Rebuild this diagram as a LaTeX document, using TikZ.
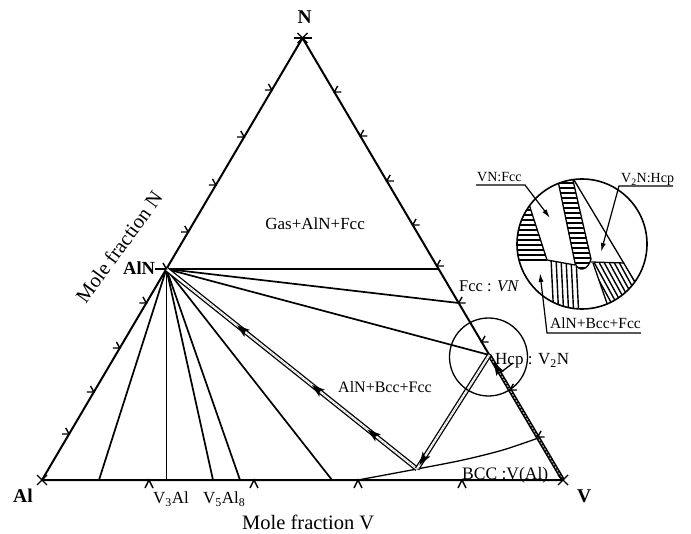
\documentclass[tikz,border=0pt]{standalone}
\usepackage{fontspec}
\setmainfont{Liberation Serif}
\usetikzlibrary{arrows.meta,calc}

\tikzset{
  side/.style={line width=2.0pt, line join=round},
  tie/.style={line width=1.7pt},
  fine/.style={line width=1.3pt},
  tk/.style={line width=1.4pt},
  lab/.style={inner sep=0pt, font=\fontsize{17}{20}\selectfont},
  smalllab/.style={inner sep=0pt, font=\fontsize{14}{16}\selectfont},
  vlab/.style={inner sep=0pt, font=\fontsize{19.5}{23}\selectfont\bfseries},
  axislab/.style={inner sep=0pt, font=\fontsize{20.5}{24}\selectfont},
  lead/.style={line width=1.2pt, -{Latex[length=9pt,width=5pt]}},
  dbl/.style={line width=1.3pt, double=white, double distance=2.2pt},
  inner dash/.style={gray!55, line width=0.6pt, dash pattern=on 2pt off 1.5pt},
  lmark/.pic={\draw[tk] (-3.4,-6.1) -- (0,0) -- (-7,0);},
  rmark/.pic={\draw[tk] (3.4,-6.1) -- (0,0) -- (7,0);},
  bmark/.pic={\draw[tk] (-4,8) -- (0,0) -- (4,8);},
  cross/.pic={\draw[tk] (-5,-5) -- (5,5) (-5,5) -- (5,-5);}
}
% filled arrowhead: tip at #1, pointing away from #2
\newcommand\headtip[2]{%
  \fill (#1) -- ($(#1)!13pt!(#2)!4.5pt!90:(#1)$) -- ($(#1)!10pt!(#2)$)
        -- ($(#1)!13pt!(#2)!4.5pt!-90:(#1)$) -- cycle;}

\begin{document}
\begin{tikzpicture}[x=1pt,y=-1pt]
\useasboundingbox (0,0) rectangle (691,534);

% corners of the composition triangle and key points
\coordinate (Al) at (42,480);
\coordinate (N) at (302.5,38);
\coordinate (V) at (563,480);
\coordinate (AlN) at (166.4,269);
\coordinate (Fcc) at (438.7,269);
\coordinate (E2) at (458.7,303);
\coordinate (Hcp) at (489.3,355);
\coordinate (P) at (417,469);
\coordinate (b1) at (99,480);
\coordinate (b2) at (166.4,480);
\coordinate (b3) at (213,480);
\coordinate (b4) at (240,480);
\coordinate (b5) at (332,480);
\coordinate (c0) at (358,480);
\coordinate (c1) at (538.3,438);

% tie lines from AlN
\foreach \e in {Fcc,E2,Hcp,b1,b2,b3,b4,b5}
  \draw[tie] (AlN) -- (\e);

% BCC boundary
\draw[fine] plot[smooth] coordinates {(c0) (P) (463,460) (503,450) (c1)};

% triangle sides
\draw[side] (Al) -- (N) -- (V) -- cycle;

% three-phase path lines
\draw[line width=4pt] (Hcp) -- (V);
\draw[gray!60, line width=1pt, dash pattern=on 2pt off 1.5pt] (Hcp) -- (V);
\draw[dbl] (AlN) -- (P);
\draw[inner dash] ($(AlN)!0.08!(P)$) -- (P);
\draw[dbl] (Hcp) -- (P);
\draw[inner dash] (Hcp) -- (P);

% arrowheads along the paths
\coordinate (h1) at ($(P)!0.196!(AlN)$);
\coordinate (h2) at ($(P)!0.419!(AlN)$);
\coordinate (h3) at ($(P)!0.718!(AlN)$);
\coordinate (h4) at ($(P)!0.035!(Hcp)$);
\coordinate (h5) at ($(Hcp)!0.06!(V)$);
\headtip{h1}{P}
\headtip{h2}{P}
\headtip{h3}{P}
\headtip{h4}{Hcp}
\headtip{h5}{V}

% scale marks
\foreach \yy in {434,392,348,303,232,185,137,90}
  \pic at ({42+(480-\yy)*0.5894},\yy) {lmark};
\foreach \yy in {92,136,181,225,266,303,342,390,437}
  \pic at ({302.5+(\yy-38)*0.5894},\yy) {rmark};
\foreach \xx in {149,254,358,462}
  \pic at (\xx,480) {bmark};
\pic at (AlN) {lmark};
\draw[tk] (AlN) -- ++(-11,0);
\pic at (N) {cross};
\draw[tk] (N) ++(-9,0) -- ++(18,0);
\pic at (Al) {cross};
\pic at (V) {cross};

% circle round the Hcp corner
\draw[fine] (488.5,357) circle[radius=39pt];
\draw[fine] (513,363) -- (500,373);

% magnified view
\coordinate (ic) at (582,244);
\begin{scope}
  \clip (ic) circle[radius=65pt];
  \begin{scope}
    \clip (547,260) -- (527,198) -- (505,198) -- (505,260) -- cycle;
    \foreach \yy in {200,205,...,262}
      \draw[line width=2.6pt] (505,\yy) -- (550,\yy);
  \end{scope}
  \begin{scope}
    \clip (557,176) -- (575,263) .. controls (578,272) and (588,271) .. (591,259) -- (572,176) -- cycle;
    \foreach \yy in {178,183,...,272}
      \draw[line width=2.6pt] (550,\yy) -- (600,\yy);
  \end{scope}
  \draw[fine] (557,176) -- (575,263) .. controls (578,272) and (588,271) .. (591,259) -- (572,176);
  \begin{scope}
    \clip (593,263) -- (624,263) -- (650,307) -- (650,320) -- (613,320) -- cycle;
    \foreach \xx in {560,565,...,640}
      \draw[line width=1.4pt] (\xx,255) -- ({\xx+0.55*70},325);
  \end{scope}
  \begin{scope}
    \clip (547,260) -- (576,266) -- (580,269) -- (581,320) -- (545,320) -- cycle;
    \foreach \xx in {551,556,...,580}
      \draw[line width=1.4pt] (\xx,258) -- ({\xx+3},320);
  \end{scope}
  \draw[line width=1.8pt] (510,260) -- (547,260);
  \draw[fine] (527,198) -- (547,260) -- (575,265);
  \draw[fine] (591,262) -- (624,263);
  \draw[fine] (593,263) -- (610,312);
  \draw[fine] (574,180) -- (650,307);
\end{scope}
\draw[line width=1.6pt] (ic) circle[radius=65pt];

% leaders of the magnified view
\draw[lead] (476,185) -- (525,185) -- (550,218);
\draw[lead] (673,186) -- (619,186) -- (601,252);
\draw[lead] (641,333) -- (547,333) -- (540,273);
\node[smalllab, anchor=base west] (tVN) at (477,182) {VN:Fcc};
\node[smalllab, anchor=base west] (tV2N) at (621,183) {V\textsubscript{2}N:Hcp};
\node[lab, font=\fontsize{15.5}{18}\selectfont, anchor=base west] (tABF2) at (550,329) {AlN+Bcc+Fcc};

% labels
\node[vlab, anchor=base west] (lN) at (297.5,24) {N};
\node[vlab, anchor=base west] (lAl) at (13,502) {Al};
\node[vlab, anchor=base west] (lV) at (577,502) {V};
\node[vlab, font=\fontsize{18.5}{22}\selectfont\bfseries, anchor=base west] (lAlN) at (123,275) {AlN};
\node[lab, anchor=base west] (lV3) at (153,503.5) {V\textsubscript{3}Al};
\node[lab, anchor=base west] (lV5) at (203,503.5) {V\textsubscript{5}Al\textsubscript{8}};
\node[axislab, anchor=base west] (xlab) at (242,529) {Mole fraction V};
\node[axislab, rotate=54] (ylab) at (119,247) {Mole fraction N};
\node[lab, anchor=base east] (tGas) at (365,230) {Gas+AlN+Fcc};
\node[lab, font=\fontsize{16.5}{19}\selectfont, anchor=base west] (tFcc) at (459,291.7) {Fcc : \textit{VN}};
\node[lab, font=\fontsize{16}{19}\selectfont, anchor=base west] (tABF) at (338,393) {AlN+Bcc+Fcc};
\node[lab, font=\fontsize{17.5}{20}\selectfont, anchor=base west] (tBCC) at (462,479.5) {BCC :V(Al)};
\node[lab, anchor=base west] (tHcp) at (495,365) {Hcp : V\textsubscript{2}N};
\end{tikzpicture}
\end{document}
